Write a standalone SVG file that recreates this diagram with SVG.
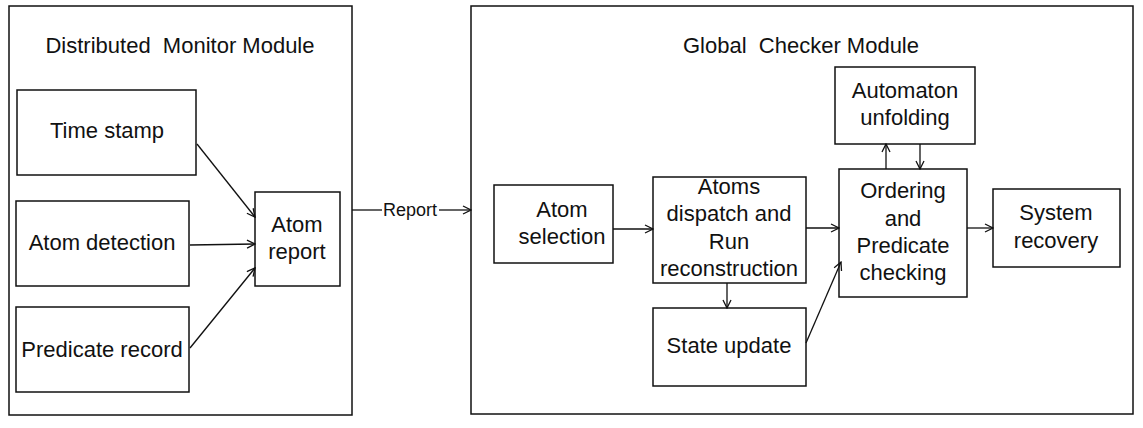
<svg xmlns="http://www.w3.org/2000/svg" width="1143" height="428" viewBox="0 0 1143 428">
<defs>
<style>
.box{fill:#fff;stroke:#111;stroke-width:1.5}
.t{font-family:"Liberation Sans",Arial,sans-serif;font-size:22px;fill:#111;text-anchor:middle;white-space:pre}
.s{font-size:18px}
.c{fill:none;stroke:#111;stroke-width:1.3}
</style>
<marker id="ah" viewBox="0 0 10 10" refX="9" refY="5" markerWidth="10" markerHeight="10" markerUnits="userSpaceOnUse" orient="auto">
<path d="M1,1 L9,5 L1,9" fill="none" stroke="#111" stroke-width="1.3"/>
</marker>
</defs>
<rect width="1143" height="428" fill="#fff"/>
<g id="distributed-monitor-module">
<rect class="box" x="9" y="6" width="343" height="409"/>
<text class="t" x="180" y="53" xml:space="preserve">Distributed  Monitor Module</text>
</g>
<g id="global-checker-module">
<rect class="box" x="471" y="6" width="662" height="408"/>
<text class="t" x="801" y="53" xml:space="preserve">Global  Checker Module</text>
</g>
<g id="time-stamp"><rect class="box" x="17" y="90" width="179" height="85"/><text class="t" x="107" y="138">Time stamp</text></g>
<g id="atom-detection"><rect class="box" x="16" y="201" width="173" height="85"/><text class="t" x="102" y="250">Atom detection</text></g>
<g id="predicate-record"><rect class="box" x="16" y="307" width="173" height="85"/><text class="t" x="102" y="357">Predicate record</text></g>
<g id="atom-report"><rect class="box" x="255" y="192" width="85" height="94"/><text class="t" x="297" y="232">Atom</text><text class="t" x="297" y="259">report</text></g>
<g id="atom-selection"><rect class="box" x="494" y="185" width="119" height="78"/><text class="t" x="562" y="217">Atom</text><text class="t" x="562" y="244">selection</text></g>
<g id="atoms-dispatch"><rect class="box" x="653" y="177" width="153" height="106"/><text class="t" x="729" y="194">Atoms</text><text class="t" x="729" y="221">dispatch and</text><text class="t" x="729" y="249">Run</text><text class="t" x="729" y="276">reconstruction</text></g>
<g id="state-update"><rect class="box" x="653" y="308" width="153" height="78"/><text class="t" x="729" y="353">State update</text></g>
<g id="automaton-unfolding"><rect class="box" x="835" y="67" width="140" height="77"/><text class="t" x="905" y="98">Automaton</text><text class="t" x="905" y="125">unfolding</text></g>
<g id="ordering"><rect class="box" x="839" y="169" width="128" height="128"/><text class="t" x="903" y="198">Ordering</text><text class="t" x="903" y="226">and</text><text class="t" x="903" y="253">Predicate</text><text class="t" x="903" y="280">checking</text></g>
<g id="system-recovery"><rect class="box" x="993" y="189" width="127" height="78"/><text class="t" x="1056" y="220">System</text><text class="t" x="1056" y="248">recovery</text></g>
<g id="connectors">
<line class="c" x1="197" y1="144" x2="255" y2="217" marker-end="url(#ah)"/>
<line class="c" x1="190" y1="245" x2="255" y2="244" marker-end="url(#ah)"/>
<line class="c" x1="190" y1="348" x2="255" y2="268" marker-end="url(#ah)"/>
<line class="c" x1="352" y1="210" x2="382" y2="210"/>
<text class="t s" x="410" y="216">Report</text>
<line class="c" x1="439" y1="210" x2="471" y2="210" marker-end="url(#ah)"/>
<line class="c" x1="613" y1="229" x2="653" y2="229" marker-end="url(#ah)"/>
<line class="c" x1="727" y1="283" x2="727" y2="308" marker-end="url(#ah)"/>
<line class="c" x1="806" y1="228" x2="839" y2="228" marker-end="url(#ah)"/>
<line class="c" x1="806" y1="343" x2="841" y2="262" marker-end="url(#ah)"/>
<line class="c" x1="886" y1="169" x2="886" y2="144" marker-end="url(#ah)"/>
<line class="c" x1="920" y1="144" x2="920" y2="169" marker-end="url(#ah)"/>
<line class="c" x1="967" y1="228" x2="993" y2="228" marker-end="url(#ah)"/>
</g>
</svg>
